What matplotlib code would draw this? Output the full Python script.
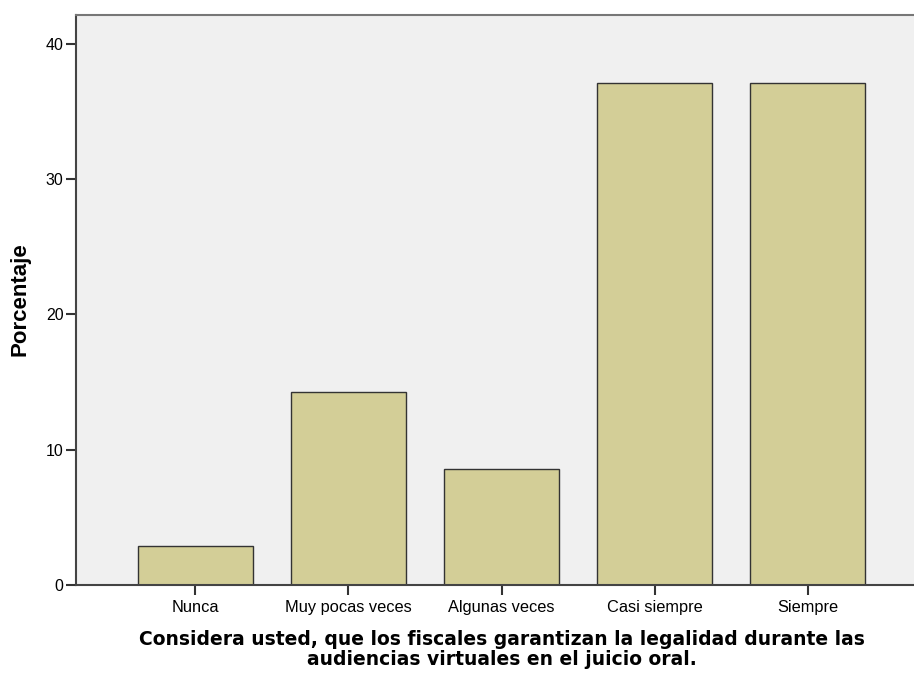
import matplotlib
matplotlib.use("Agg")
import matplotlib.pyplot as plt
import numpy as np

categories = ["Nunca", "Muy pocas veces", "Algunas veces", "Casi siempre", "Siempre"]
porcentaje = [2.86, 14.29, 8.57, 37.14, 37.14]
y_ticks = [0, 10, 20, 30, 40]

fig = plt.figure(figsize=(9.14, 6.75), dpi=100)
# axes right edge runs past the picture, as in the cropped original
ax = fig.add_axes([76 / 914, 1 - 585 / 675, (927 - 76) / 914, (585 - 15) / 675])
ax.set_facecolor("#f0f0f0")

x = np.arange(len(categories))
ax.bar(x, porcentaje, width=0.75, color="#d3ce97", edgecolor="#333333", linewidth=1.0, zorder=2)

ax.set_xlim(-0.78, len(categories) - 1 + 0.78)
ax.set_ylim(0, 42.14)
ax.set_xticks(x)
ax.set_xticklabels(categories, family="Liberation Sans", fontsize=11.8)
ax.set_yticks(y_ticks)
ax.set_yticklabels([str(t) for t in y_ticks], family="Liberation Sans", fontsize=11.5)
ax.tick_params(axis="both", direction="out", length=7, width=1.5, color="#333333")
ax.tick_params(axis="x", pad=4)
ax.tick_params(axis="y", pad=2)

for side in ["left", "bottom"]:
    ax.spines[side].set_color("#444444")
    ax.spines[side].set_linewidth(1.5)
ax.spines["top"].set_color("#777777")
ax.spines["top"].set_linewidth(1.5)
ax.spines["right"].set_visible(False)

fig.text(20 / 914, 1 - 299 / 675, "Porcentaje", rotation=90, ha="center", va="center",
         fontsize=16, fontweight="bold", family="Liberation Sans")
fig.text(502 / 914, 1 - 630 / 675,
         "Considera usted, que los fiscales garantizan la legalidad durante las\naudiencias virtuales en el juicio oral.",
         ha="center", va="top", fontsize=13.5, fontweight="bold", family="DejaVu Sans",
         linespacing=1.05)

plt.savefig("out.png", dpi=100)
